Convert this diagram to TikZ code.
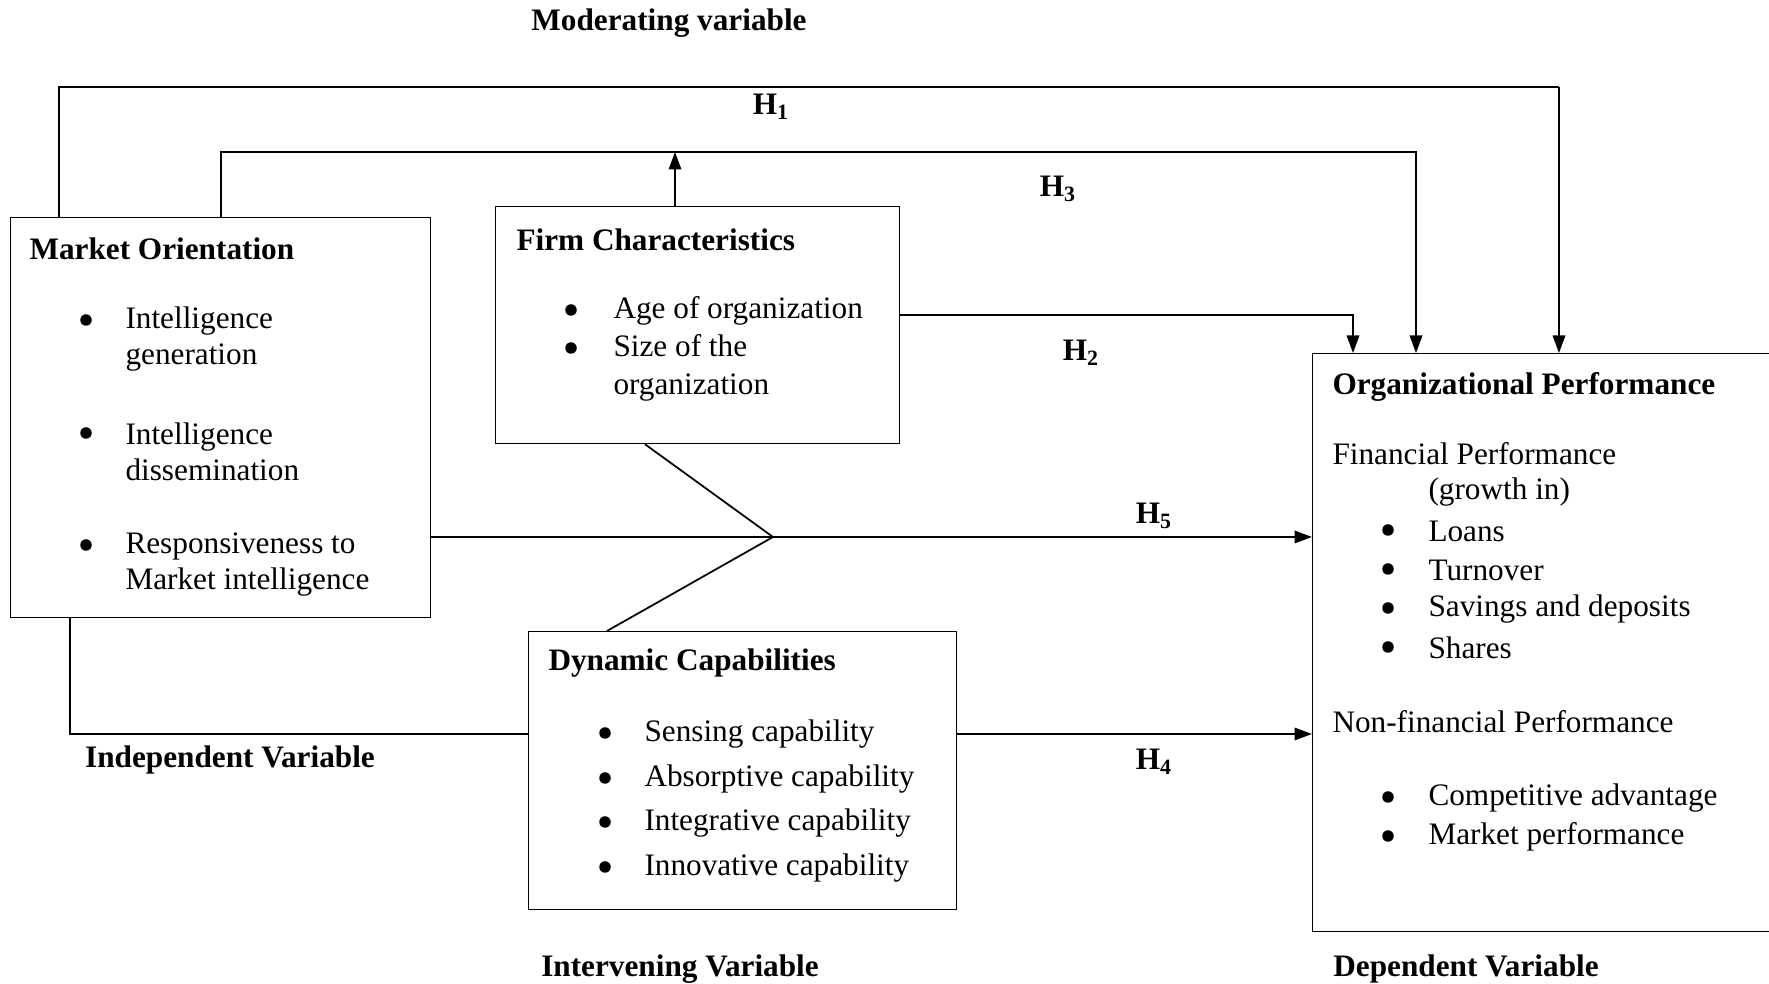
\documentclass[tikz,border=0pt]{standalone}
\usepackage{fontspec}
\setmainfont{Liberation Serif}
\usetikzlibrary{arrows.meta,positioning}
\tikzset{box/.style={draw,line width=0.5pt,anchor=north west,inner sep=0pt},
	txt/.style={anchor=west,inner sep=0pt,yshift=-1.2pt,align=left,font=\fontsize{12.5}{14.4}\selectfont},
	hd/.style={txt,font=\fontsize{12.5}{14.4}\selectfont\bfseries},
	dot/.style={circle,fill,inner sep=0pt,minimum size=4.6pt,yshift=-0.8pt},
	lbl/.style={inner sep=0pt,yshift=-1.2pt,font=\fontsize{12.5}{14.4}\selectfont\bfseries},
	link/.style={line width=0.7pt},
	arr/.style={link,-{Triangle[length=7pt,width=5pt]}}}

\begin{document}
\begin{tikzpicture}[x=0.4pt,y=-0.4pt]
	\useasboundingbox (0,0) rectangle (1769,984);
	% boxes
	\node[box,minimum width=168pt,minimum height=160pt] (mo) at (10,217) {};
	\node[box,minimum width=161.6pt,minimum height=94.8pt] (fc) at (495,206) {};
	\node[box,minimum width=171.2pt,minimum height=111.2pt] (dc) at (528,631) {};
	\node[box,minimum width=184.4pt,minimum height=231.2pt] (op) at (1312,353) {};
	% market orientation
	\node[hd] (mot) at (29,246) {Market Orientation};
	\node[dot] (mob1) at (86,318) {};
	\node[txt] (mo1) at (125,336) {Intelligence\\generation};
	\node[dot] (mob2) at (86,431) {};
	\node[txt] (mo2) at (125,449) {Intelligence\\dissemination};
	\node[dot] (mob3) at (86,543) {};
	\node[txt] (mo3) at (125,562) {Responsiveness to\\Market intelligence};
	% firm characteristics
	\node[hd] (fct) at (516,237) {Firm Characteristics};
	\node[dot] (fcb1) at (571,308) {};
	\node[txt] (fc1) at (613,308) {Age of organization};
	\node[dot] (fcb2) at (571,346) {};
	\node[txt] (fc2) at (613,365) {Size of the\\[0.8pt]organization};
	% dynamic capabilities
	\node[hd] (dct) at (548,660) {Dynamic Capabilities};
	\node[dot] (dcb1) at (605,731) {};
	\node[txt] (dc1) at (644,731) {Sensing capability};
	\node[dot] (dcb2) at (605,776) {};
	\node[txt] (dc2) at (644,776) {Absorptive capability};
	\node[dot] (dcb3) at (605,820) {};
	\node[txt] (dc3) at (644,820) {Integrative capability};
	\node[dot] (dcb4) at (605,865) {};
	\node[txt] (dc4) at (644,865) {Innovative capability};
	% organizational performance
	\node[hd] (opt) at (1332,384) {Organizational Performance};
	\node[txt] (opf) at (1332,451) {Financial Performance};
	\node[txt] (opg) at (1428,489) {(growth in)};
	\node[dot] (opb1) at (1388,528) {};
	\node[txt] (op1) at (1428,528) {Loans};
	\node[dot] (opb2) at (1388,567) {};
	\node[txt] (op2) at (1428,567) {Turnover};
	\node[dot] (opb3) at (1388,606) {};
	\node[txt] (op3) at (1428,606) {Savings and deposits};
	\node[dot] (opb4) at (1388,645) {};
	\node[txt] (op4) at (1428,645) {Shares};
	\node[txt] (opn) at (1332,719) {Non-financial Performance};
	\node[dot] (opb5) at (1388,795) {};
	\node[txt] (op5) at (1428,795) {Competitive advantage};
	\node[dot] (opb6) at (1388,834) {};
	\node[txt] (op6) at (1428,834) {Market performance};
	% variable labels
	\node[lbl] (mv) at (669,20) {Moderating variable};
	\node[lbl] (iv) at (230,757) {Independent Variable};
	\node[lbl] (inv) at (680,966) {Intervening Variable};
	\node[lbl] (dv) at (1466,966) {Dependent Variable};
	% hypotheses
	\node[lbl] (h1) at (771,104) {H\textsubscript{1}};
	\node[lbl] (h3) at (1058,186) {H\textsubscript{3}};
	\node[lbl] (h2) at (1081,350) {H\textsubscript{2}};
	\node[lbl] (h5) at (1154,513) {H\textsubscript{5}};
	\node[lbl] (h4) at (1154,759) {H\textsubscript{4}};
	% connectors
	\coordinate (t1) at (59,87);
	\coordinate (t2) at (1559,87);
	\coordinate (t3) at (221,152);
	\coordinate (t4) at (1416,152);
	\coordinate (t5) at (675,152);
	\coordinate (t6) at (1353,315);
	\coordinate (j) at (773,537);
	\coordinate (t7) at (70,734);
	\draw[link] (t1 |- mo.north) -- (t1) -- (t2);
	\draw[arr] (t2) -- (t2 |- op.north);
	\draw[arr] (t3 |- mo.north) -- (t3) -- (t4) -- (t4 |- op.north);
	\draw[arr] (t5 |- fc.north) -- (t5);
	\draw[arr] (t6 -| fc.east) -- (t6) -- (t6 |- op.north);
	\draw[arr] (j -| mo.east) -- (j -| op.west);
	\draw[link] (645,0 |- fc.south) -- (j) -- (607,0 |- dc.north);
	\draw[link] (t7 |- mo.south) -- (t7) -- (t7 -| dc.west);
	\draw[arr] (t7 -| dc.east) -- (t7 -| op.west);
\end{tikzpicture}
\end{document}
